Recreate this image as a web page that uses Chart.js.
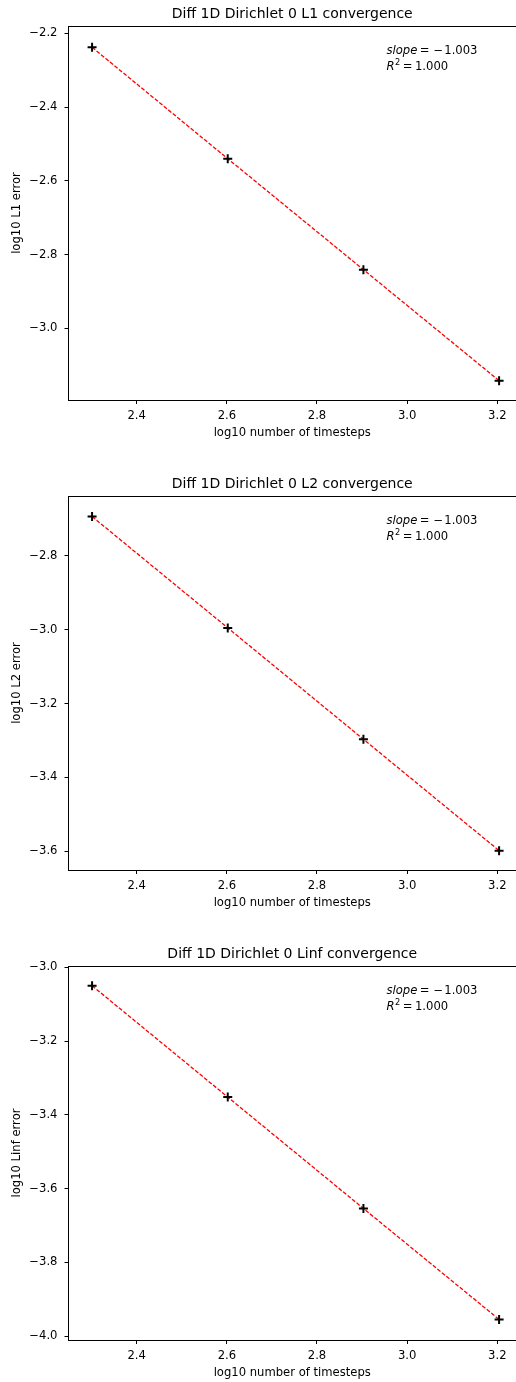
<!DOCTYPE html>
<html>
<head>
<meta charset="utf-8">
<script src="https://cdn.jsdelivr.net/npm/chart.js@4.4.0/dist/chart.umd.min.js"></script>
<style>
  html, body { margin: 0; padding: 0; background: #fff; overflow: hidden; }
  canvas { display: block; }
</style>
</head>
<body>
<canvas id="chartL1" width="516" height="470"></canvas>
<canvas id="chartL2" width="516" height="470"></canvas>
<canvas id="chartLinf" width="516" height="470"></canvas>
<script>
// log10 of the number of timesteps (200, 400, 800, 1600)
const logSteps = [2.301, 2.602, 2.903, 3.204];
const l1Error = [-2.238, -2.540, -2.841, -3.142];
const l2Error = [-2.693, -2.995, -3.297, -3.599];
const linfError = [-3.050, -3.352, -3.654, -3.955];

const xTicks = [2.4, 2.6, 2.8, 3.0, 3.2];
const l1Ticks = [-2.2, -2.4, -2.6, -2.8, -3.0];
const l2Ticks = [-2.8, -3.0, -3.2, -3.4, -3.6];
const linfTicks = [-3.0, -3.2, -3.4, -3.6, -3.8, -4.0];

const slopeText = '1.003';
const r2Text = '1.000';

const FONT = '"DejaVu Sans", sans-serif';
Chart.defaults.color = '#000';
Chart.defaults.font.family = FONT;

// title (centred on the axes like matplotlib), top spine, slope / R^2 note
const fitLabel = {
  id: 'fitLabel',
  afterDraw(chart, args, opts) {
    const { ctx, chartArea } = chart;
    ctx.save();
    ctx.fillStyle = '#000';
    ctx.textBaseline = 'middle';
    ctx.textAlign = 'center';
    ctx.font = '14px ' + FONT;
    ctx.fillText(opts.title, (chartArea.left + chartArea.right) / 2, 14);

    ctx.strokeStyle = '#000';
    ctx.lineWidth = 1;
    ctx.beginPath();
    ctx.moveTo(chartArea.left, chartArea.top + 0.5);
    ctx.lineTo(chartArea.right, chartArea.top + 0.5);
    ctx.stroke();

    ctx.textAlign = 'left';
    const x0 = 386.5;
    let y = chartArea.top + 25;
    let x = x0;
    ctx.font = 'italic 11.6px ' + FONT;
    ctx.fillText('slope', x, y);
    x += ctx.measureText('slope').width + 2.5;
    ctx.font = '11.6px ' + FONT;
    ctx.fillText('=', x, y);
    x += ctx.measureText('=').width + 4;
    ctx.fillText('\u2212', x, y);
    x += ctx.measureText('\u2212').width + 1;
    ctx.fillText(slopeText, x, y);

    y = chartArea.top + 41;
    x = x0;
    ctx.font = 'italic 11.6px ' + FONT;
    ctx.fillText('R', x, y);
    x += ctx.measureText('R').width + 0.5;
    ctx.font = '8.2px ' + FONT;
    ctx.fillText('2', x, y - 4);
    x += ctx.measureText('2').width + 2.5;
    ctx.font = '11.6px ' + FONT;
    ctx.fillText('=', x, y);
    x += ctx.measureText('=').width + 2.5;
    ctx.fillText(r2Text, x, y);
    ctx.restore();
  }
};

function makeChart(id, title, yLabel, errors, yTicks, yMin, yMax) {
  const pts = logSteps.map((v, i) => ({ x: v, y: errors[i] }));
  return new Chart(document.getElementById(id), {
    type: 'scatter',
    data: {
      datasets: [
        {
          label: 'data',
          data: pts,
          pointStyle: 'cross',
          pointRadius: 4.5,
          pointBorderWidth: 2,
          borderColor: '#000',
          backgroundColor: '#000',
          order: 0
        },
        {
          label: 'fit',
          data: pts,
          showLine: true,
          pointRadius: 0,
          borderColor: '#ff0000',
          borderWidth: 1.3,
          borderDash: [4, 1.8],
          order: 1
        }
      ]
    },
    options: {
      responsive: false,
      animation: false,
      layout: { autoPadding: false, padding: { top: 26, left: 0, right: 0, bottom: 0 } },
      plugins: {
        legend: { display: false },
        tooltip: { enabled: false },
        title: { display: false },
        fitLabel: { title: title }
      },
      scales: {
        x: {
          type: 'linear',
          min: 2.2487,
          max: 3.2415,
          afterFit: s => { s.height = 70; s.paddingLeft = 0; s.paddingRight = 0; },
          afterBuildTicks: s => { s.ticks = xTicks.map(v => ({ value: v })); },
          border: { display: true, color: '#000', width: 1 },
          grid: { display: true, drawOnChartArea: false, drawTicks: true, tickLength: 4, color: '#000', tickWidth: 1 },
          ticks: { padding: 5, font: { size: 11.6 }, color: '#000', maxRotation: 0, callback: v => v.toFixed(1) },
          title: { display: true, text: 'log10 number of timesteps', font: { size: 11.6 }, color: '#000', padding: { top: 0, bottom: 30.5 } }
        },
        y: {
          type: 'linear',
          min: yMin,
          max: yMax,
          afterFit: s => { s.width = 68.5; s.paddingTop = 0; s.paddingBottom = 0; },
          afterBuildTicks: s => { s.ticks = yTicks.map(v => ({ value: v })); },
          border: { display: true, color: '#000', width: 1 },
          grid: { display: true, drawOnChartArea: false, drawTicks: true, tickLength: 4, color: '#000', tickWidth: 1 },
          ticks: { padding: 7, font: { size: 11.6 }, color: '#000', callback: v => v.toFixed(1).replace('-', '\u2212') },
          title: { display: true, text: yLabel, font: { size: 11.6 }, color: '#000', padding: { top: 10, bottom: 0 } }
        }
      }
    },
    plugins: [fitLabel]
  });
}

makeChart('chartL1', 'Diff 1D Dirichlet 0 L1 convergence', 'log10 L1 error', l1Error, l1Ticks, -3.1944, -2.1802);
makeChart('chartL2', 'Diff 1D Dirichlet 0 L2 convergence', 'log10 L2 error', l2Error, l2Ticks, -3.6515, -2.6373);
makeChart('chartLinf', 'Diff 1D Dirichlet 0 Linf convergence', 'log10 Linf error', linfError, linfTicks, -4.0107, -2.9965);
</script>
</body>
</html>
